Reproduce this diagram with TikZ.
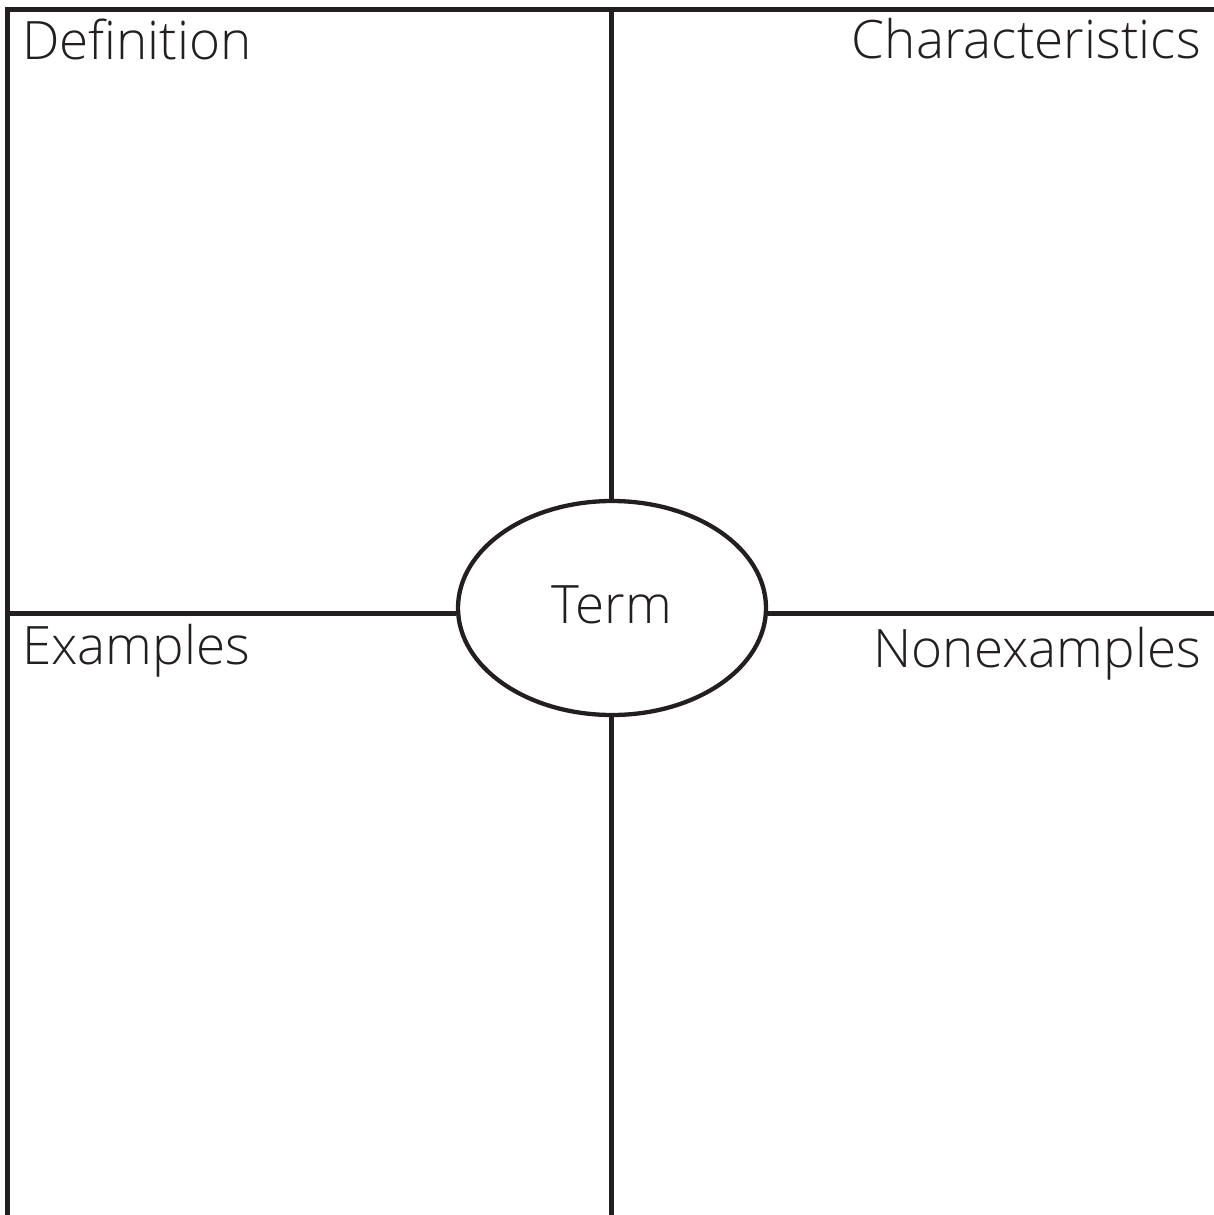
\documentclass[tikz,border=0pt]{standalone}
\usepackage{fontspec}
\IfFontExistsTF{Open Sans Light}{\setmainfont{Open Sans Light}}{\setmainfont{Open Sans}}
\usetikzlibrary{shapes.geometric}
\definecolor{ink}{HTML}{231F20}
\tikzset{
  rule/.style={draw=ink, line width=4.3pt},
  label/.style={inner sep=0pt, text=ink, font=\fontsize{53}{53}\selectfont},
}
\begin{document}
\begin{tikzpicture}[x=1pt,y=-1pt]
  \useasboundingbox (0,0) rectangle (1214,1215);
  % frame corners and rule ends
  \coordinate (bl) at (7.5,1215);
  \coordinate (tl) at (7.5,9.5);
  \coordinate (tr) at (1214,9.5);
  \coordinate (tm) at (611.5,9.5);
  \coordinate (bm) at (611.5,1215);
  \coordinate (ml) at (7.5,613.5);
  \coordinate (mr) at (1214,613.5);
  % central term
  \node[ellipse, rule, minimum width=308pt, minimum height=214pt, inner sep=0pt] (term) at (612,608) {};
  \node[label, anchor=base] (termtext) at (612,623.5) {Term};
  % outer frame
  \draw[rule, line join=miter] (bl) -- (tl) -- (tr);
  % dividing rules
  \draw[rule] (tm) -- (tm |- term.north);
  \draw[rule] (term.south -| bm) -- (bm);
  \draw[rule] (ml) -- (term.west |- ml);
  \draw[rule] (term.east |- mr) -- (mr);
  % quadrant headings
  \node[label, anchor=base west] (def) at (22,59.5) {Definition};
  \node[label, anchor=base east] (char) at (1201,58.5) {Characteristics};
  \node[label, anchor=base west] (ex) at (22,664) {Examples};
  \node[label, anchor=base east] (nonex) at (1201,667) {Nonexamples};
\end{tikzpicture}
\end{document}
